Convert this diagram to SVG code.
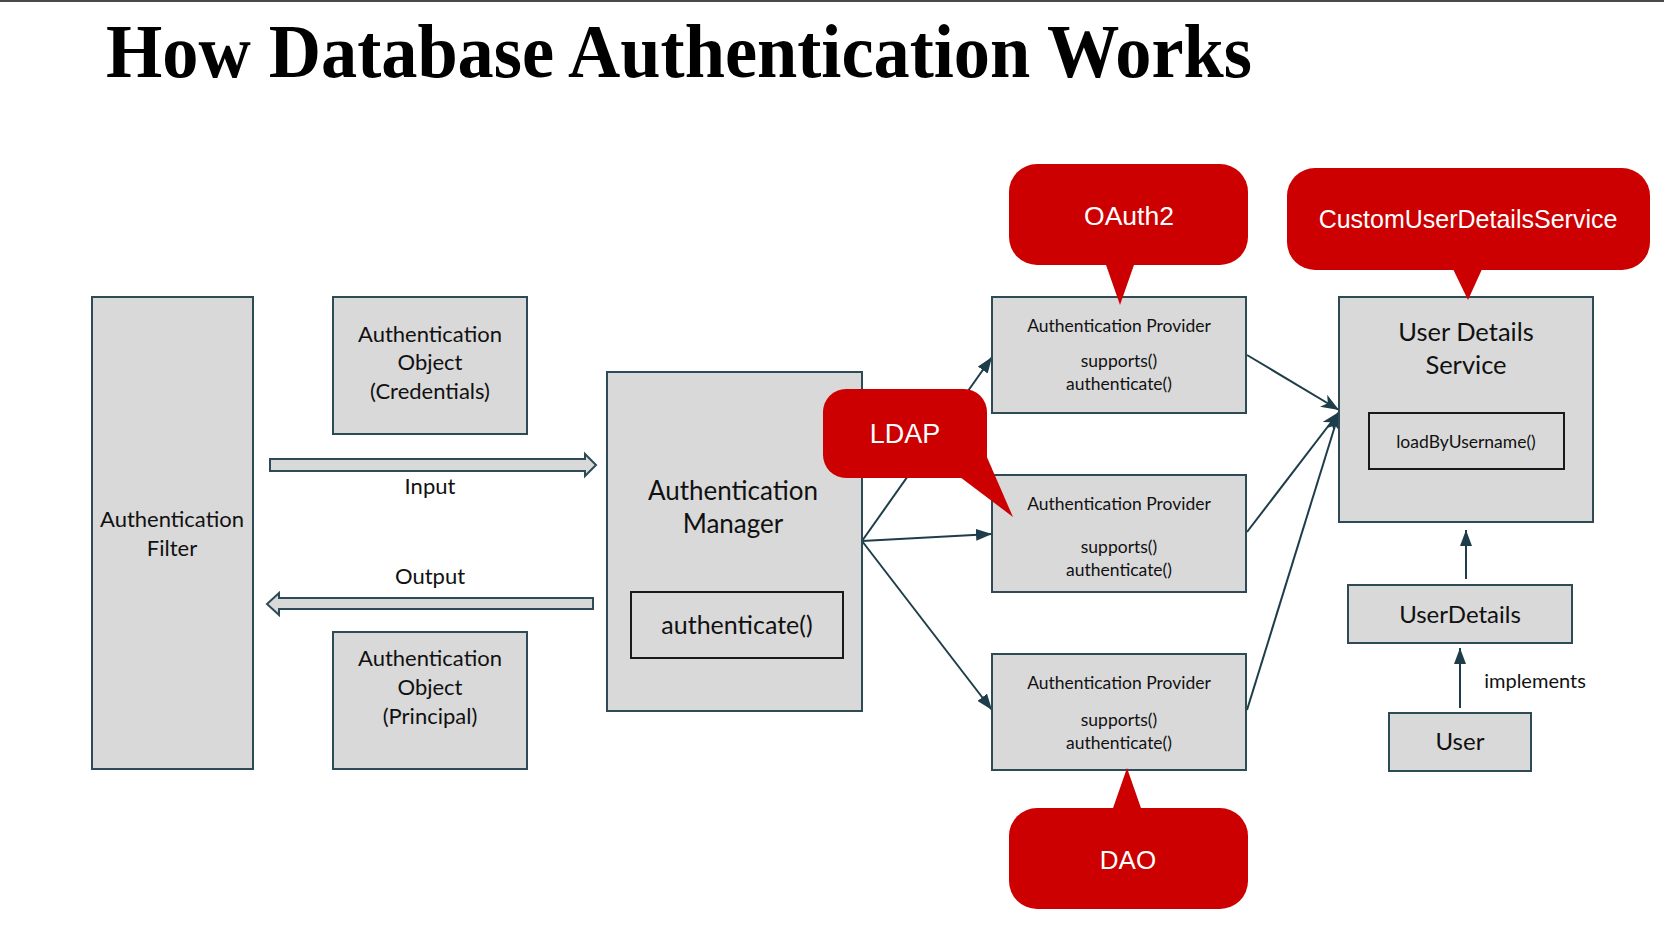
<svg xmlns="http://www.w3.org/2000/svg" width="1664" height="928" viewBox="0 0 1664 928">
<defs>
<style>
.box{fill:#d9d9d9;stroke:#2e4a56;stroke-width:2}
.inner{fill:#d9d9d9;stroke:#1a1a1a;stroke-width:2}
.t{font-family:Lato,"Open Sans","Noto Sans",sans-serif;fill:#111;text-anchor:middle}
.p{font-size:17.5px}
.red{fill:#cc0000}
.rt{font-family:"Liberation Sans",Arial,sans-serif;fill:#fff;text-anchor:middle}
.ln{stroke:#1e3d4a;stroke-width:2;fill:none}
.blk{fill:#d9d9d9;stroke:#2e4a56;stroke-width:2}
</style>
<marker id="tri" markerUnits="userSpaceOnUse" markerWidth="16" markerHeight="12" refX="16" refY="6" orient="auto">
<path d="M0,0 L16,6 L0,12 z" fill="#1e3d4a"/>
</marker>
<marker id="stealth" markerUnits="userSpaceOnUse" markerWidth="18" markerHeight="14" refX="18" refY="7" orient="auto">
<path d="M0,0 L18,7 L0,14 L5,7 z" fill="#1e3d4a"/>
</marker>
</defs>
<rect x="0" y="0" width="1664" height="928" fill="#fff"/>
<rect x="0" y="0" width="1664" height="2" fill="#4a4a4a"/>
<text x="106" y="77" font-family="'Liberation Serif','Times New Roman',serif" font-weight="bold" font-size="76" textLength="1146" lengthAdjust="spacingAndGlyphs" fill="#000">How Database Authentication Works</text>

<g id="connectors">
<polygon class="blk" points="270,459 585,459 585,454 596,465 585,476 585,471 270,471"/>
<polygon class="blk" points="593,598 279,598 279,593 267,604 279,615 279,609 593,609"/>
<text class="t" x="430" y="494" font-size="22">Input</text>
<text class="t" x="430" y="584" font-size="22">Output</text>
<line class="ln" x1="862" y1="541" x2="992" y2="357" marker-end="url(#tri)"/>
<line class="ln" x1="862" y1="541" x2="992" y2="534" marker-end="url(#tri)"/>
<line class="ln" x1="862" y1="541" x2="992" y2="710" marker-end="url(#tri)"/>
<line class="ln" x1="1247" y1="355" x2="1339" y2="410" marker-end="url(#stealth)"/>
<line class="ln" x1="1247" y1="532" x2="1339" y2="412" marker-end="url(#stealth)"/>
<line class="ln" x1="1247" y1="710" x2="1339" y2="413" marker-end="url(#stealth)"/>
<line class="ln" x1="1466" y1="579" x2="1466" y2="530" marker-end="url(#tri)"/>
<line class="ln" x1="1460" y1="708" x2="1460" y2="648" marker-end="url(#tri)"/>
<text class="t" x="1535" y="688" font-size="20">implements</text>
</g>

<g id="auth-filter">
<rect class="box" x="92" y="297" width="161" height="472"/>
<text class="t" x="172" y="527" font-size="22">Authentication</text>
<text class="t" x="172" y="556" font-size="22">Filter</text>
</g>

<g id="auth-credentials">
<rect class="box" x="333" y="297" width="194" height="137"/>
<text class="t" x="430" y="342" font-size="22">Authentication</text>
<text class="t" x="430" y="370" font-size="22">Object</text>
<text class="t" x="430" y="399" font-size="22">(Credentials)</text>
</g>

<g id="auth-principal">
<rect class="box" x="333" y="632" width="194" height="137"/>
<text class="t" x="430" y="666" font-size="22">Authentication</text>
<text class="t" x="430" y="695" font-size="22">Object</text>
<text class="t" x="430" y="724" font-size="22">(Principal)</text>
</g>

<g id="auth-manager">
<rect class="box" x="607" y="372" width="255" height="339"/>
<text class="t" x="733" y="500" font-size="26">Authentication</text>
<text class="t" x="733" y="533" font-size="26">Manager</text>
<rect class="inner" x="631" y="592" width="212" height="66"/>
<text class="t" x="737" y="634" font-size="25">authenticate()</text>
</g>

<g id="provider-1">
<rect class="box" x="992" y="297" width="254" height="116"/>
<text class="t p" x="1119" y="332">Authentication Provider</text>
<text class="t p" x="1119" y="367">supports()</text>
<text class="t p" x="1119" y="390">authenticate()</text>
</g>

<g id="provider-2">
<rect class="box" x="992" y="475" width="254" height="117"/>
<text class="t p" x="1119" y="510">Authentication Provider</text>
<text class="t p" x="1119" y="553">supports()</text>
<text class="t p" x="1119" y="576">authenticate()</text>
</g>

<g id="provider-3">
<rect class="box" x="992" y="654" width="254" height="116"/>
<text class="t p" x="1119" y="689">Authentication Provider</text>
<text class="t p" x="1119" y="726">supports()</text>
<text class="t p" x="1119" y="749">authenticate()</text>
</g>

<g id="user-details-service">
<rect class="box" x="1339" y="297" width="254" height="225"/>
<text class="t" x="1466" y="341" font-size="25.5">User Details</text>
<text class="t" x="1466" y="374" font-size="25.5">Service</text>
<rect class="inner" x="1369" y="413" width="195" height="56"/>
<text class="t" x="1466" y="448" font-size="17.5">loadByUsername()</text>
</g>

<g id="user-details">
<rect class="box" x="1348" y="585" width="224" height="58"/>
<text class="t" x="1460" y="623" font-size="24">UserDetails</text>
</g>

<g id="user">
<rect class="box" x="1389" y="713" width="142" height="58"/>
<text class="t" x="1460" y="750" font-size="24">User</text>
</g>

<g id="callout-oauth2">
<rect class="red" x="1009" y="164" width="239" height="101" rx="28"/>
<polygon class="red" points="1105,262 1120,305 1135,262"/>
<text class="rt" x="1129" y="225" font-size="26.5">OAuth2</text>
</g>

<g id="callout-custom">
<rect class="red" x="1287" y="168" width="363" height="102" rx="28"/>
<polygon class="red" points="1452,267 1468,300 1483,267"/>
<text class="rt" x="1468" y="228" font-size="25">CustomUserDetailsService</text>
</g>

<g id="callout-ldap">
<rect class="red" x="823" y="389" width="164" height="89" rx="23"/>
<polygon class="red" points="960,477 1013,517 986,455"/>
<text class="rt" x="905" y="443" font-size="27">LDAP</text>
</g>

<g id="callout-dao">
<rect class="red" x="1009" y="808" width="239" height="101" rx="28"/>
<polygon class="red" points="1112,811 1127,768 1142,811"/>
<text class="rt" x="1128" y="869" font-size="26">DAO</text>
</g>
</svg>
